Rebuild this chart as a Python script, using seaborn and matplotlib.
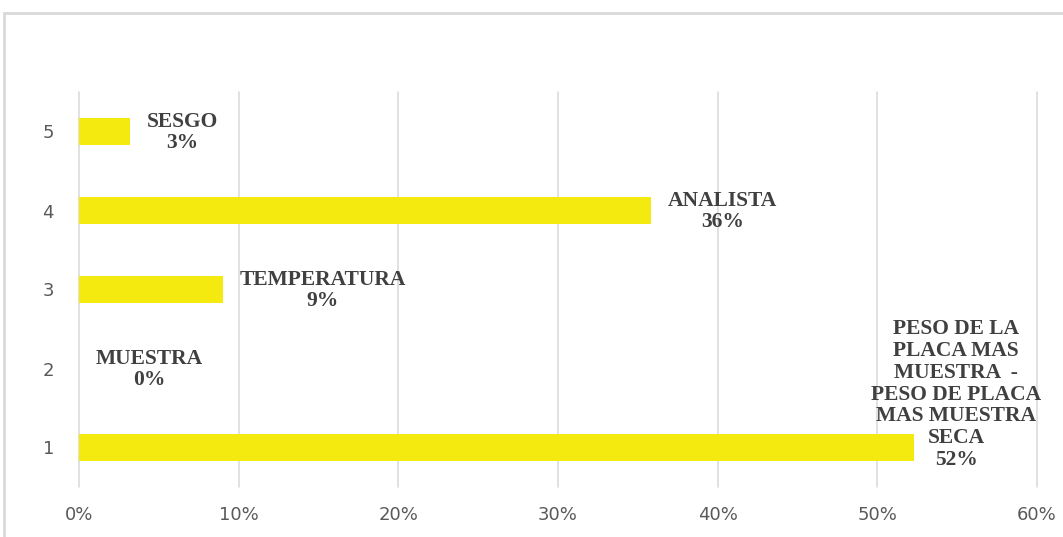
import matplotlib
matplotlib.use("Agg")
import matplotlib.pyplot as plt
from matplotlib.patches import Rectangle
from matplotlib.ticker import PercentFormatter
import seaborn as sns
import pandas as pd

# Data
categories = ["1", "2", "3", "4", "5"]
values = [0.523, 0.0, 0.09, 0.358, 0.032]
names = [
    "PESO DE LA\nPLACA MAS\nMUESTRA  -\nPESO DE PLACA\nMAS MUESTRA\nSECA",
    "MUESTRA",
    "TEMPERATURA",
    "ANALISTA",
    "SESGO",
]
x_ticks = [0, 0.1, 0.2, 0.3, 0.4, 0.5, 0.6]

df = pd.DataFrame({"cat": categories, "val": values, "name": names})

sns.set_theme(style="white")
fig = plt.figure(figsize=(10.63, 5.37), dpi=100)
W, H = 1063, 537
ax = fig.add_axes([79 / W, 1 - 487 / H, (1037 - 79) / W, (487 - 92) / H])

bar_color = "#F4EA10"
order = categories[::-1]
sns.barplot(data=df, y="cat", x="val", order=order, orient="h",
            color=bar_color, saturation=1, width=0.34, linewidth=0,
            ax=ax, zorder=2)

ax.set_xlim(0, 0.6)
ax.set_ylim(len(order) - 0.5, -0.5)
ax.set_xticks(x_ticks)
ax.xaxis.set_major_formatter(PercentFormatter(1.0, decimals=0))
ax.grid(axis="x", color="#D9D9D9", linewidth=1.1, zorder=0)
ax.grid(axis="y", visible=False)
ax.set_axisbelow(True)
for gl in ax.get_xgridlines():
    gl.set_clip_on(False)
for s in ax.spines.values():
    s.set_visible(False)
ax.set_xlabel("")
ax.set_ylabel("")
ax.tick_params(axis="x", length=0, pad=14, labelsize=13, labelcolor="#595959")
ax.tick_params(axis="y", length=0, pad=18, labelsize=13, labelcolor="#595959")

label_font = dict(family="Liberation Serif", weight="bold", size=15.5,
                  color="#404040", linespacing=1.12)

for cat, val, name in zip(categories, values, names):
    pos = order.index(cat)
    text = f"{name}\n{val:.0%}"
    if "\n" in name:
        ax.annotate(text, xy=(val, pos), xytext=(42, 53),
                    textcoords="offset pixels", ha="center", va="center",
                    multialignment="center", **label_font)
    else:
        ax.annotate(text, xy=(val, pos), xytext=(17, -1),
                    textcoords="offset pixels", ha="left", va="center",
                    multialignment="center", **label_font)

# Chart frame
fig.patches.append(Rectangle((4 / W, -0.05), 1.1, 1 - 13 / H + 0.05,
                             transform=fig.transFigure, fill=False,
                             edgecolor="#D9D9D9", linewidth=2))

fig.savefig("out.png", dpi=100, facecolor="white")
